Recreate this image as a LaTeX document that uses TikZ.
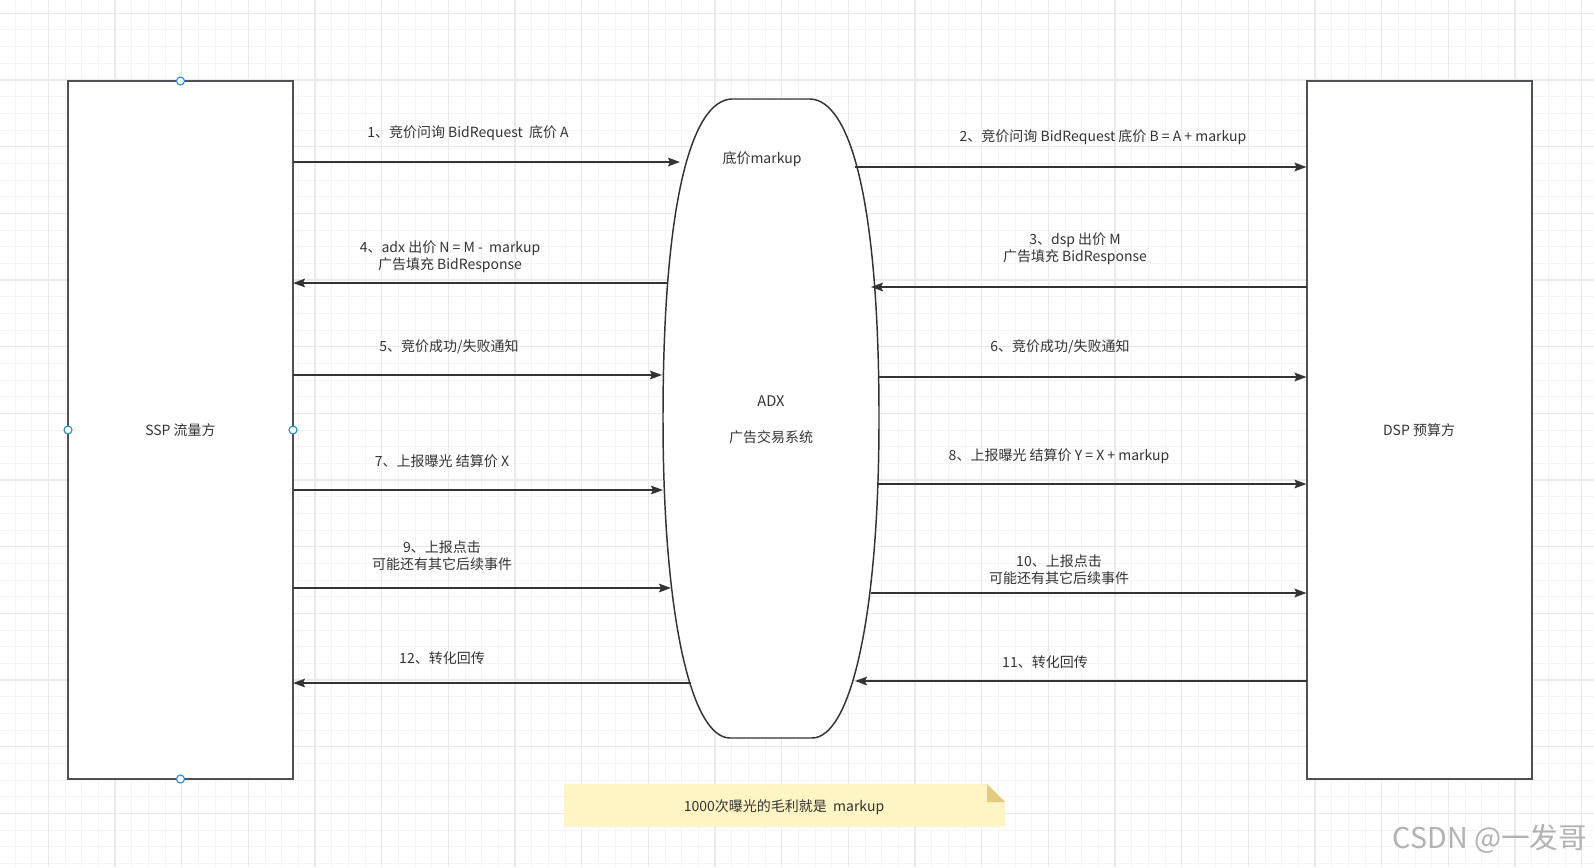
\documentclass[tikz,border=0pt]{standalone}
\usepackage{fontspec}
\setmainfont{Noto Sans CJK SC}
\usetikzlibrary{arrows.meta, positioning}
\definecolor{gridminor}{RGB}{244, 244, 244}
\definecolor{gridmajor}{RGB}{234, 234, 234}
\definecolor{boxline}{RGB}{77, 81, 86}
\definecolor{inkgray}{RGB}{51, 51, 51}
\definecolor{handle}{RGB}{30, 136, 229}
\definecolor{notefill}{RGB}{255, 244, 195}
\definecolor{notefold}{RGB}{227, 203, 128}

\begin{document}
\begin{tikzpicture}[
        x=0.75pt, y=-0.75pt,
        party/.style={draw=boxline, line width=1.5pt, fill=white, minimum width=168.75pt, minimum height=523.5pt, inner sep=0pt, outer sep=0pt, font=\fontsize{10.5pt}{13pt}\selectfont, text=inkgray},
        lbl/.style={font=\fontsize{10.5pt}{13pt}\selectfont, text=inkgray, align=center, inner sep=1pt},
        arr/.style={-{Stealth[length=9pt, width=6.5pt, inset=1.5pt]}, line width=1.1pt, inkgray},
        dot/.style={circle, draw=handle, line width=0.8pt, fill=white, minimum size=6pt, inner sep=0pt}
      ]
        \useasboundingbox (0,0) rectangle (1594,867);
        \fill[white] (0,0) rectangle (1594,867);
        % grid
        \foreach \i in {0,...,95} \draw[gridminor, line width=0.75pt] ({15+16.6667*\i},0) -- ++(0,867);
        \foreach \i in {0,...,52} \draw[gridminor, line width=0.75pt] (0,{-3.333+16.6667*\i}) -- ++(1594,0);
        \foreach \i in {0,...,23} \draw[gridmajor, line width=0.9pt] ({48.333+66.667*\i},0) -- ++(0,867);
        \foreach \i in {0,...,12} \draw[gridmajor, line width=0.9pt] (0,{13.333+66.667*\i}) -- ++(1594,0);

        % parties
        \node[party] (ssp) at (180.5,430) {SSP 流量方};
        \node[party] (dsp) at (1419,430) {DSP 预算方};

        % exchange
        \draw[inkgray, line width=1.1pt, fill=white] (732,99) -- (810,99)
          .. controls (850,100) and (879,200) .. (879,418)
          .. controls (879,620) and (850,738) .. (812,738) -- (730,738)
          .. controls (692,738) and (663,620) .. (663,418)
          .. controls (663,200) and (692,100) .. (732,99) -- cycle;
        \node[lbl] (floor)  at (762,159) {底价markup};
        \node[lbl, font=\fontsize{11pt}{13pt}\selectfont] (adx)    at (771,401) {ADX};
        \node[lbl] (adxsub) at (771,437) {广告交易系统};

        % arrow ends on the exchange
        \coordinate (e1)  at (680,162);
        \coordinate (s2)  at (855,167);
        \coordinate (e3)  at (871,287);
        \coordinate (s4)  at (668,283);
        \coordinate (e5)  at (662,375);
        \coordinate (s6)  at (879,377);
        \coordinate (e7)  at (663,490);
        \coordinate (s8)  at (878,484);
        \coordinate (e9)  at (671,588);
        \coordinate (s10) at (871,593);
        \coordinate (e11) at (855,681);
        \coordinate (s12) at (691,683);

        \draw[arr] (ssp.east |- e1) -- (e1);
        \draw[arr] (s2) -- (dsp.west |- s2);
        \draw[arr] (dsp.west |- e3) -- (e3);
        \draw[arr] (s4) -- (ssp.east |- s4);
        \draw[arr] (ssp.east |- e5) -- (e5);
        \draw[arr] (s6) -- (dsp.west |- s6);
        \draw[arr] (ssp.east |- e7) -- (e7);
        \draw[arr] (s8) -- (dsp.west |- s8);
        \draw[arr] (ssp.east |- e9) -- (e9);
        \draw[arr] (s10) -- (dsp.west |- s10);
        \draw[arr] (dsp.west |- e11) -- (e11);
        \draw[arr] (s12) -- (ssp.east |- s12);

        % labels
        \node[lbl] (l1)  at (468,133) {1、竞价问询 BidRequest \ 底价 A};
        \node[lbl] (l2)  at (1103,137) {2、竞价问询 BidRequest 底价 B = A + markup};
        \node[lbl] (l3)  at (1075,248.5) {3、dsp 出价 M\\广告填充 BidResponse};
        \node[lbl] (l4)  at (450,257) {4、adx 出价 N = M - \ markup\\广告填充 BidResponse};
        \node[lbl] (l5)  at (449,347) {5、竞价成功/失败通知};
        \node[lbl] (l6)  at (1060,347) {6、竞价成功/失败通知};
        \node[lbl] (l7)  at (442,461) {7、上报曝光 结算价 X};
        \node[lbl] (l8)  at (1059,456) {8、上报曝光 结算价 Y = X + markup};
        \node[lbl] (l9)  at (442,555.5) {9、上报点击\\可能还有其它后续事件};
        \node[lbl] (l10) at (1059,570) {10、上报点击\\可能还有其它后续事件};
        \node[lbl] (l11) at (1045,662) {11、转化回传};
        \node[lbl] (l12) at (442,658) {12、转化回传};

        % handles on the ssp box
        \node[dot] (hn) at (ssp.north) {};
        \node[dot] (hs) at (ssp.south) {};
        \node[dot] (hw) at (ssp.west) {};
        \node[dot] (he) at (ssp.east) {};

        % note
        \fill[notefill] (564,784) -- (987,784) -- (1005,802) -- (1005,827) -- (564,827) -- cycle;
        \fill[notefold] (987,784) -- (1005,802) -- (987,802) -- cycle;
        \node[lbl] (note) at (784,807) {1000次曝光的毛利就是 \ markup};

        % watermark
        \node[font=\fontsize{21.5pt}{24pt}\selectfont, text=black!30, inner sep=0pt] (mark) at (1490,839) {CSDN @一发哥};
      \end{tikzpicture}
\end{document}
